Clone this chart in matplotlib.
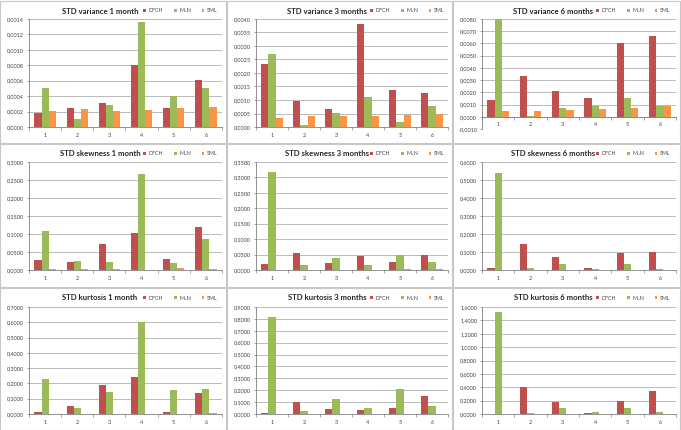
import numpy as np
import matplotlib
matplotlib.use("Agg")
import matplotlib.pyplot as plt
from matplotlib.patches import Rectangle

plt.rcParams['font.family'] = ['Lato', 'DejaVu Sans']

categorias = ['1', '2', '3', '4', '5', '6']
series = ['DFCH', 'MLN', 'SML']
colores = ['#C0504D', '#9BBB59', '#F79646']

titulos = ['STD variance 1 month', 'STD variance 3 months', 'STD variance 6 months',
           'STD skewness 1 month', 'STD skewness 3 months', 'STD skewness 6 months',
           'STD kurtosis 1 month', 'STD kurtosis 3 months', 'STD kurtosis 6 months']

# valores por panel: DFCH, MLN, SML
var1_dfch = [0.00018, 0.00024, 0.00031, 0.00080, 0.00024, 0.00061]
var1_mln = [0.00050, 0.00010, 0.00029, 0.00136, 0.00040, 0.00050]
var1_sml = [0.00021, 0.00023, 0.00021, 0.00022, 0.00024, 0.00026]

var3_dfch = [0.00235, 0.00098, 0.00065, 0.00380, 0.00137, 0.00125]
var3_mln = [0.00270, 0.00007, 0.00053, 0.00110, 0.00020, 0.00078]
var3_sml = [0.00035, 0.00040, 0.00040, 0.00040, 0.00046, 0.00050]

var6_dfch = [0.0014, 0.0033, 0.0021, 0.0015, 0.0060, 0.0066]
var6_mln = [0.0080, 0.00005, 0.00068, 0.0009, 0.00155, 0.00085]
var6_sml = [0.00045, 0.0005, 0.00058, 0.0006, 0.00075, 0.00088]

sk1_dfch = [0.028, 0.022, 0.072, 0.103, 0.031, 0.120]
sk1_mln = [0.109, 0.025, 0.023, 0.267, 0.020, 0.087]
sk1_sml = [0.003, 0.003, 0.002, 0.000, 0.006, 0.003]

sk3_dfch = [0.020, 0.056, 0.024, 0.044, 0.027, 0.047]
sk3_mln = [0.318, 0.016, 0.040, 0.015, 0.047, 0.027]
sk3_sml = [0.001, 0.000, 0.000, 0.000, 0.003, 0.003]

sk6_dfch = [0.010, 0.145, 0.070, 0.013, 0.096, 0.100]
sk6_mln = [0.538, 0.010, 0.033, 0.005, 0.035, 0.005]
sk6_sml = [0.000, 0.000, 0.000, 0.000, 0.000, 0.000]

ku1_dfch = [0.010, 0.052, 0.188, 0.240, 0.010, 0.140]
ku1_mln = [0.232, 0.036, 0.146, 0.600, 0.158, 0.166]
ku1_sml = [0.000, 0.000, 0.000, 0.000, 0.000, 0.004]

ku3_dfch = [0.010, 0.100, 0.044, 0.032, 0.052, 0.154]
ku3_mln = [0.820, 0.025, 0.126, 0.048, 0.208, 0.068]
ku3_sml = [0.000, 0.000, 0.000, 0.000, 0.000, 0.000]

ku6_dfch = [0.000, 0.400, 0.175, 0.017, 0.197, 0.347]
ku6_mln = [1.525, 0.015, 0.090, 0.025, 0.090, 0.025]
ku6_sml = [0.000, 0.000, 0.000, 0.000, 0.000, 0.000]

datos = [(var1_dfch, var1_mln, var1_sml), (var3_dfch, var3_mln, var3_sml), (var6_dfch, var6_mln, var6_sml),
         (sk1_dfch, sk1_mln, sk1_sml), (sk3_dfch, sk3_mln, sk3_sml), (sk6_dfch, sk6_mln, sk6_sml),
         (ku1_dfch, ku1_mln, ku1_sml), (ku3_dfch, ku3_mln, ku3_sml), (ku6_dfch, ku6_mln, ku6_sml)]

# limites del eje y (min, max, paso)
escalas = [(0, 0.0014, 0.0002), (0, 0.004, 0.0005), (-0.001, 0.008, 0.001),
           (0, 0.3, 0.05), (0, 0.35, 0.05), (0, 0.6, 0.1),
           (0, 0.7, 0.1), (0, 0.9, 0.1), (0, 1.6, 0.2)]

W, H = 681, 430
fig = plt.figure(figsize=(W / 100, H / 100), dpi=100)
fig.patch.set_facecolor('white')

col_x = [0, 227, 453, 681]
fil_y = [0, 143, 287, 430]

# bordes de cada grafico
for r in range(3):
    for c in range(3):
        x0, x1 = col_x[c], col_x[c + 1]
        y0, y1 = fil_y[r], fil_y[r + 1]
        fig.patches.append(Rectangle((x0 / W, 1 - y1 / H), (x1 - x0 - 1) / W, (y1 - y0 - 1) / H,
                                     transform=fig.transFigure, fill=False, ec='#C8C8C8', lw=0.8))

def fmt(v, pos=None):
    return ('%.4f' % v).replace('.', ',')

x = np.arange(len(categorias))
ancho = 1 / 4.5

for i in range(9):
    r, c = divmod(i, 3)
    x0, x1 = col_x[c], col_x[c + 1]
    y0 = fil_y[r]
    izq = x0 + 29
    der = x1 - 5
    arr = y0 + 19 + (1 if r == 2 else 0)
    aba = y0 + 127 + (2 if i == 2 else 0)
    ax = fig.add_axes([izq / W, 1 - aba / H, (der - izq) / W, (aba - arr) / H])

    for k in range(3):
        ax.bar(x + (k - 1) * ancho, datos[i][k], ancho, color=colores[k], label=series[k], zorder=3)

    ymin, ymax, paso = escalas[i]
    ax.set_ylim(ymin, ymax)
    ax.set_yticks(np.arange(ymin, ymax + paso / 2, paso))
    ax.yaxis.set_major_formatter(matplotlib.ticker.FuncFormatter(fmt))
    ax.set_xlim(-0.5, len(categorias) - 0.5)
    ax.set_xticks(x)
    ax.set_xticklabels(categorias)
    ax.set_xticks(np.arange(-0.5, len(categorias), 1), minor=True)
    ax.grid(axis='y', color='#B0B0B0', lw=0.6, zorder=0)
    ax.tick_params(axis='both', labelsize=4.0, colors='#404040', length=1.5, width=0.5, pad=2)
    ax.tick_params(axis='x', which='major', length=0, pad=4)
    ax.tick_params(axis='x', which='minor', length=2, width=0.5, color='#808080')
    ax.tick_params(axis='y', color='#808080')
    for s in ['top', 'right']:
        ax.spines[s].set_visible(False)
    for s in ['left', 'bottom']:
        ax.spines[s].set_color('#808080')
        ax.spines[s].set_linewidth(0.6)
    if ymin < 0:
        ax.spines['bottom'].set_position(('data', 0))

    fig.text((x0 + 100) / W, 1 - (y0 + 11) / H, titulos[i], ha='center', va='center',
             fontsize=5.6, fontweight='bold', color='#262626')
    ax.legend(loc='center left', bbox_to_anchor=((x0 + 143) / W, 1 - (y0 + 11) / H),
              bbox_transform=fig.transFigure, ncol=3, frameon=False, fontsize=3.8,
              handlelength=0.55, handleheight=0.55, handletextpad=0.5, columnspacing=2.0,
              borderpad=0, borderaxespad=0, labelcolor='#404040')

fig.savefig('out.png', dpi=100)
